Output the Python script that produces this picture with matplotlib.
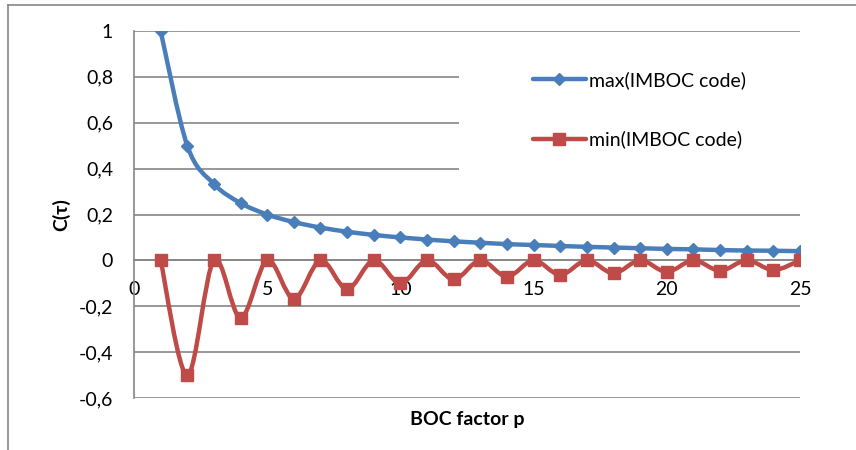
import matplotlib
matplotlib.use('Agg')
import matplotlib.pyplot as plt
import numpy as np
from matplotlib.path import Path
from matplotlib.patches import PathPatch, Rectangle
from matplotlib.lines import Line2D
from matplotlib.ticker import FuncFormatter

plt.rcParams['font.family'] = ['Lato', 'DejaVu Sans']
plt.rcParams['axes.unicode_minus'] = False

# BOC factor p and the correlation peaks
p_factor = [1, 2, 3, 4, 5, 6, 7, 8, 9, 10, 11, 12, 13,
            14, 15, 16, 17, 18, 19, 20, 21, 22, 23, 24, 25]
max_vals = [1.0, 0.5, 0.333, 0.25, 0.2, 0.167, 0.143, 0.125, 0.111, 0.1,
            0.091, 0.083, 0.077, 0.071, 0.067, 0.063, 0.059, 0.056, 0.053,
            0.05, 0.048, 0.045, 0.043, 0.042, 0.04]
min_vals = [0, -0.5, 0, -0.25, 0, -0.167, 0, -0.125, 0, -0.1, 0, -0.083, 0,
            -0.071, 0, -0.063, 0, -0.056, 0, -0.05, 0, -0.045, 0, -0.042, 0]
series_names = ['max(IMBOC code)', 'min(IMBOC code)']

BLUE = '#4a7ebb'
RED = '#be4b48'
GRID = '#868686'


def smooth_path(x, y):
    # excel style smoothed line: bezier through every point
    pts = np.column_stack([x, y]).astype(float)
    n = len(pts)
    verts = [pts[0]]
    codes = [Path.MOVETO]
    for i in range(n - 1):
        p0 = pts[max(i - 1, 0)]
        p1 = pts[i]
        p2 = pts[i + 1]
        p3 = pts[min(i + 2, n - 1)]
        verts += [p1 + (p2 - p0) / 6, p2 - (p3 - p1) / 6, p2]
        codes += [Path.CURVE4] * 3
    return Path(verts, codes)


fig = plt.figure(figsize=(8.56, 4.5), dpi=100)
ax = fig.add_axes([134 / 856, 52 / 450, 666 / 856, 367 / 450])

ax.set_xlim(0, 25)
ax.set_ylim(-0.6, 1)
ax.set_xticks([0, 5, 10, 15, 20, 25])
ax.set_yticks([-0.6, -0.4, -0.2, 0, 0.2, 0.4, 0.6, 0.8, 1])
fmt = FuncFormatter(lambda v, pos: ('%g' % round(v, 2)).replace('.', ','))
ax.xaxis.set_major_formatter(fmt)
ax.yaxis.set_major_formatter(fmt)
ax.tick_params(axis='both', length=0, labelsize=14, colors='black')
ax.tick_params(axis='x', pad=15)
ax.tick_params(axis='y', pad=15)

ax.yaxis.grid(True, color=GRID, linewidth=1.2)
for s in ['top', 'right']:
    ax.spines[s].set_visible(False)
ax.spines['left'].set_color(GRID)
ax.spines['left'].set_linewidth(1.2)
ax.spines['bottom'].set_position(('data', 0))
ax.spines['bottom'].set_color(GRID)
ax.spines['bottom'].set_linewidth(1.2)

# white legend area hides part of the gridlines
ax.add_patch(Rectangle((0.488, 0.5625), 0.52, 0.375, transform=ax.transAxes,
                       facecolor='white', edgecolor='none', zorder=1.8,
                       clip_on=False))

ax.add_patch(PathPatch(smooth_path(p_factor, max_vals), facecolor='none',
                       edgecolor=BLUE, linewidth=3.2, zorder=3,
                       capstyle='round', joinstyle='round'))
ax.plot(p_factor, max_vals, linestyle='none', marker='D', markersize=6.5,
        color=BLUE, zorder=4)
ax.add_patch(PathPatch(smooth_path(p_factor, min_vals), facecolor='none',
                       edgecolor=RED, linewidth=3.2, zorder=3,
                       capstyle='round', joinstyle='round'))
ax.plot(p_factor, min_vals, linestyle='none', marker='s', markersize=8.5,
        color=RED, zorder=4)

ax.set_xlabel('BOC factor p', fontsize=14, fontweight='bold')
ax.xaxis.set_label_coords(0.5, -0.035)
ax.set_ylabel('C(τ)', fontsize=14, fontweight='bold')
ax.yaxis.set_label_coords(-0.096, 0.5)

handles = [Line2D([], [], color=BLUE, lw=3.2, marker='D', markersize=6.5,
                  solid_capstyle='round'),
           Line2D([], [], color=RED, lw=3.2, marker='s', markersize=8.5,
                  solid_capstyle='round')]
fig.legend(handles, series_names, loc='upper left',
           bbox_to_anchor=(533 / 856, 1 - 71 / 450), frameon=False,
           fontsize=14, handlelength=2.7, handletextpad=0.2,
           labelspacing=2.15, borderpad=0, borderaxespad=0)

# outer chart frame (bottom and right are cut off)
fig.add_artist(Line2D([8 / 856, 1], [1 - 5 / 450, 1 - 5 / 450],
                      color=GRID, linewidth=1.2))
fig.add_artist(Line2D([8 / 856, 8 / 856], [0, 1 - 5 / 450],
                      color=GRID, linewidth=1.2))

fig.savefig('out.png', dpi=100)
